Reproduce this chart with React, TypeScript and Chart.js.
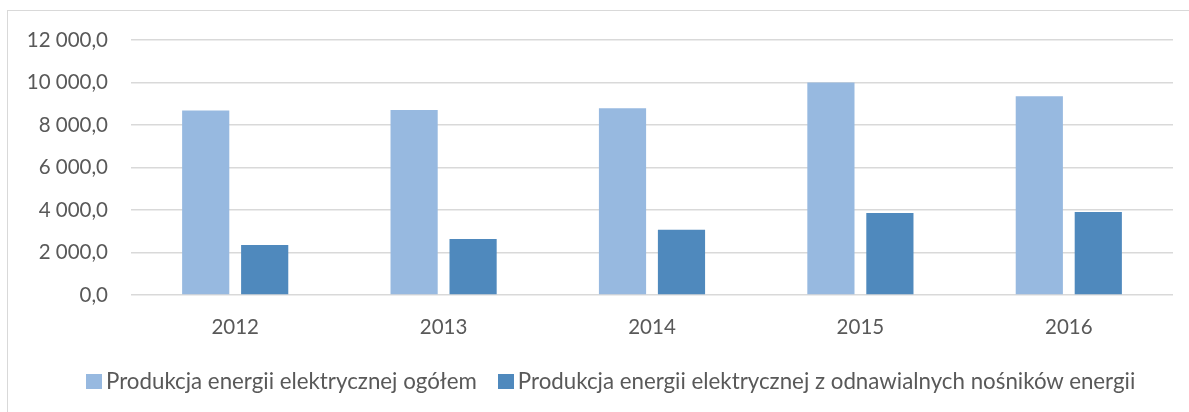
import React, { useEffect, useRef } from "react";
import { Chart, registerables } from "chart.js";

Chart.register(...registerables);

const categories = ["2012", "2013", "2014", "2015", "2016"];
const seriesTotal = [8680, 8705, 8785, 10005, 9350];
const seriesRenewable = [2350, 2635, 3075, 3860, 3905];
const seriesNames = [
  "Produkcja energii elektrycznej ogółem",
  "Produkcja energii elektrycznej z odnawialnych nośników energii",
];
const seriesColors = ["#97B9E0", "#4F89BD"];
const yMin = 0;
const yMax = 12000;
const yStep = 2000;

function formatPl(v: number): string {
  const fixed = Math.abs(v).toFixed(1);
  const [intPart, dec] = fixed.split(".");
  const withSpaces = intPart.replace(/\B(?=(\d{3})+(?!\d))/g, " ");
  return (v < 0 ? "-" : "") + withSpaces + "," + dec;
}

const FONT = "Lato";
const TEXT = "#595959";
const GRID = "#D9D9D9";

export default function App() {
  const ref = useRef<HTMLCanvasElement | null>(null);

  useEffect(() => {
    if (!ref.current) return;
    const chart = new Chart(ref.current, {
      type: "bar",
      data: {
        labels: categories,
        datasets: [
          {
            label: seriesNames[0],
            data: seriesTotal,
            backgroundColor: seriesColors[0],
            barPercentage: 0.8,
            categoryPercentage: 0.566,
          },
          {
            label: seriesNames[1],
            data: seriesRenewable,
            backgroundColor: seriesColors[1],
            barPercentage: 0.8,
            categoryPercentage: 0.566,
          },
        ],
      },
      options: {
        responsive: false,
        animation: false,
        layout: { padding: { left: 0, right: 16, top: 40, bottom: 60 } },
        plugins: {
          tooltip: { enabled: false },
          legend: { display: false },
        },
        scales: {
          x: {
            grid: { display: false, drawTicks: false },
            border: { display: false },
            ticks: {
              color: TEXT,
              padding: 20,
              font: { family: FONT, size: 20.5 },
            },
            afterFit: (s: any) => {
              s.height = 57;
            },
          },
          y: {
            min: yMin,
            max: yMax,
            grid: { color: GRID, lineWidth: 1.5, drawTicks: false },
            border: { display: false },
            ticks: {
              stepSize: yStep,
              color: TEXT,
              padding: 23,
              font: { family: FONT, size: 20.5 },
              callback: (v: any) => formatPl(Number(v)),
            },
            afterFit: (s: any) => {
              s.width = 131;
            },
          },
        },
      },
    });
    return () => chart.destroy();
  }, []);

  return (
    <div
      style={{
        position: "fixed",
        left: 0,
        top: 0,
        width: 1189,
        height: 412,
        overflow: "hidden",
        background: "#fff",
      }}
    >
      <div
        style={{
          position: "absolute",
          left: 7,
          top: 10,
          width: 1200,
          height: 420,
          border: "1px solid #D9D9D9",
        }}
      />
      <canvas
        ref={ref}
        width={1189}
        height={412}
        style={{ position: "absolute", left: 0, top: 0 }}
      />
      <div
        style={{
          position: "absolute",
          left: 86,
          top: 369,
          height: 24,
          display: "flex",
          alignItems: "center",
          whiteSpace: "nowrap",
          fontFamily: FONT,
          fontSize: 22.3,
          lineHeight: "24px",
          color: TEXT,
        }}
      >
        {seriesNames.map((name, i) => (
          <span
            key={name}
            style={{
              display: "flex",
              alignItems: "center",
              marginLeft: i === 0 ? 0 : 21,
            }}
          >
            <span
              style={{
                display: "inline-block",
                width: 16,
                height: 15,
                background: seriesColors[i],
                marginRight: 4,
              }}
            />
            <span>{name}</span>
          </span>
        ))}
      </div>
    </div>
  );
}
